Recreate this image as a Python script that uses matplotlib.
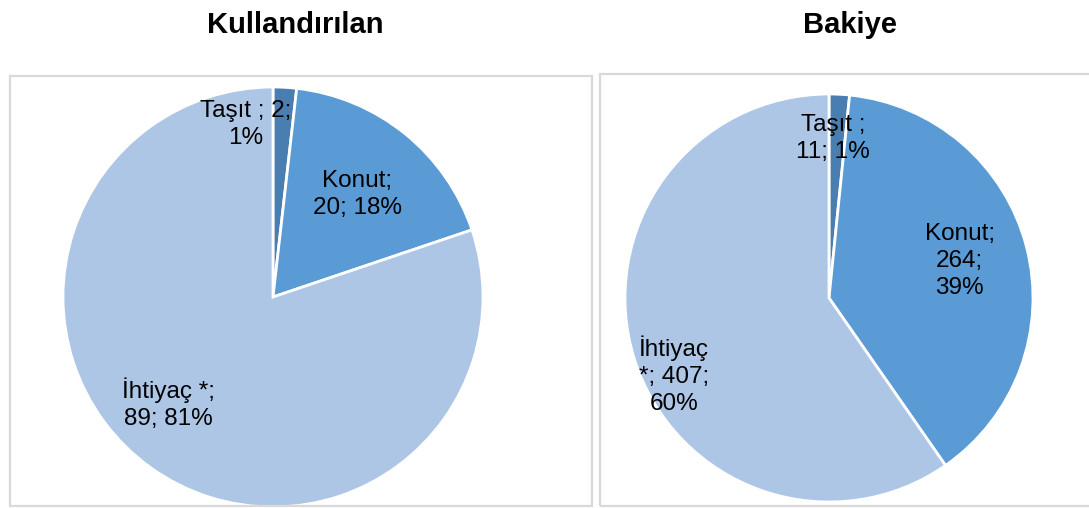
import matplotlib.pyplot as plt
from matplotlib.patches import Rectangle

plt.rcParams['font.family'] = ['Liberation Sans', 'DejaVu Sans']

categories = ['Taşıt', 'Konut', 'İhtiyaç *']
used_values = [2, 20, 89]
used_pct = ['1%', '18%', '81%']
balance_values = [11, 264, 407]
balance_pct = ['1%', '39%', '60%']

colours = ['#4a7eb0', '#5b9bd5', '#aec6e6']

W, H = 1089, 508
fig = plt.figure(figsize=(W / 100, H / 100), dpi=100)


def px_axes(cx, cy, r):
    # axes square around the pie centre, given in pixels from top-left
    return fig.add_axes([(cx - r) / W, (H - cy - r) / H, 2 * r / W, 2 * r / H])


def box(x0, y0, x1, y1):
    fig.patches.append(Rectangle((x0 / W, (H - y1) / H), (x1 - x0) / W, (y1 - y0) / H,
                                 transform=fig.transFigure, fill=False,
                                 edgecolor='#d9d9d9', linewidth=1.6))


def draw_pie(ax, values, labels, spots):
    ax.pie(values, colors=colours, startangle=90, counterclock=False, radius=1,
           wedgeprops=dict(edgecolor='white', linewidth=2))
    for lab, (x, y) in zip(labels, spots):
        ax.text(x, y, lab, ha='center', va='center', fontsize=17.5, linespacing=1.3)
    ax.set_xlim(-1, 1)
    ax.set_ylim(-1, 1)
    ax.set_axis_off()


box(10, 76, 592, 506)
box(600, 74, 1100, 506)

# left pie
ax1 = px_axes(273, 297, 210)
left_labels = [f'{categories[0]} ; {used_values[0]};\n{used_pct[0]}',
               f'{categories[1]};\n{used_values[1]}; {used_pct[1]}',
               f'{categories[2]};\n{used_values[2]}; {used_pct[2]}']
draw_pie(ax1, used_values, left_labels, [(-0.13, 0.82), (0.40, 0.49), (-0.50, -0.51)])

# right pie
ax2 = px_axes(829, 298, 204)
right_labels = [f'{categories[0]} ;\n{balance_values[0]}; {balance_pct[0]}',
                f'{categories[1]};\n{balance_values[1]};\n{balance_pct[1]}',
                f'İhtiyaç\n*; {balance_values[2]};\n{balance_pct[2]}']
draw_pie(ax2, balance_values, right_labels, [(0.02, 0.78), (0.64, 0.18), (-0.76, -0.38)])

fig.text(295 / W, 1 - 25 / H, 'Kullandırılan', ha='center', va='center',
         fontsize=21, fontweight='bold')
fig.text(850 / W, 1 - 25 / H, 'Bakiye', ha='center', va='center',
         fontsize=21, fontweight='bold')

fig.savefig('out.png', dpi=100)
